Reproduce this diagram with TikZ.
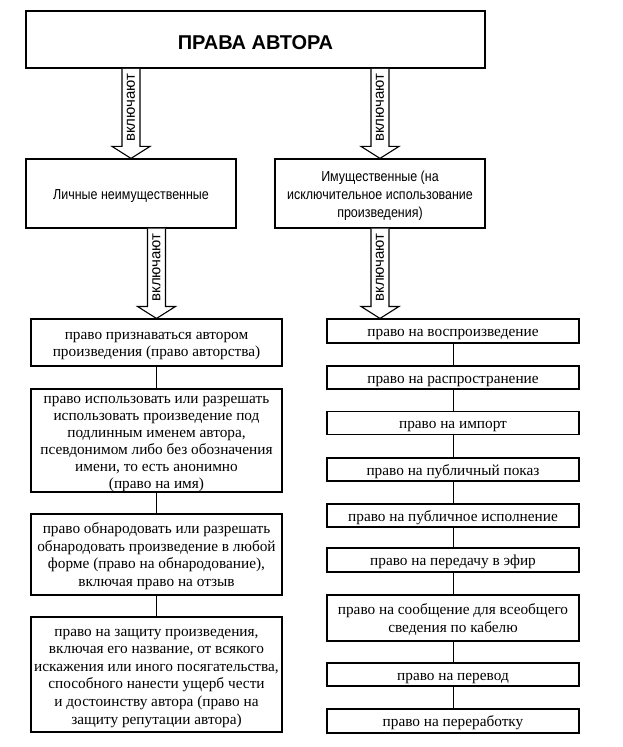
\documentclass[tikz,border=0pt]{standalone}
\usepackage{fontspec}
\setmainfont{Liberation Serif}
\setsansfont{Liberation Sans}
\newfontfamily\condsans{Liberation Sans}[FakeStretch=0.86]
\usetikzlibrary{calc}
\newcommand{\lines}[1]{\raisebox{-2pt}[\height][\depth]{\begin{tabular}{@{}c@{}}#1\end{tabular}}}
\newcommand{\catlines}[1]{\raisebox{-2.5pt}[\height][\depth]{\begin{tabular}{@{}c@{}}#1\end{tabular}}}
\newcommand{\tightlines}[1]{{\renewcommand{\arraystretch}{0.975}\raisebox{-2pt}[\height][\depth]{\begin{tabular}{@{}c@{}}#1\end{tabular}}}}
\tikzset{
  titlebox/.style={draw=black, line width=1.5pt, fill=white, inner sep=0pt,
    text height=20pt, text depth=0pt,
    font=\sffamily\bfseries\fontsize{20}{22}\selectfont},
  catbox/.style={draw=black, line width=1.2pt, fill=white, inner sep=0pt,
    font=\condsans\fontsize{14.5}{18}\selectfont},
  itembox/.style={draw=black, line width=1.1pt, fill=white, inner sep=0pt,
    font=\rmfamily\fontsize{15.3}{17.6}\selectfont},
  litem/.style={itembox, minimum width=251pt},
  ritem/.style={itembox, minimum width=252pt},
  link/.style={draw=black, line width=0.9pt},
  barrow/.style={draw=black, line width=1.1pt, fill=white, line join=miter},
  alabel/.style={font=\sffamily\fontsize{15}{17}\selectfont, rotate=90, inner sep=0pt}
}
\newcommand{\blockarrow}[3]{%
  \draw[barrow] let \p1=(#1.south -| #2.north), \p2=(#2.north) in
    (\x1-9pt,\y1) -- (\x1-9pt,\y2+12pt) -- (\x1-19pt,\y2+12pt) -- (\x2,\y2)
    -- (\x1+19pt,\y2+12pt) -- (\x1+9pt,\y2+12pt) -- (\x1+9pt,\y1);
  \path let \p1=(#1.south -| #2.north), \p2=(#2.north) in
    node[alabel] (#3) at (\x1,{(\y1+\y2+12pt)/2}) {включают};
}
\begin{document}
\begin{tikzpicture}[x=1pt,y=-1pt]
\useasboundingbox[fill=white] (0,0) rectangle (623,747);
\node[titlebox, minimum width=459pt, minimum height=57pt] (top) at (255.5,39.5) {ПРАВА АВТОРА};
\node[catbox, minimum width=210pt, minimum height=69pt] (lcat) at (131,193.5) {\catlines{Личные неимущественные}};
\node[catbox, minimum width=210pt, minimum height=69pt] (rcat) at (380,193.5) {\catlines{Имущественные (на\\исключительное использование\\произведения)}};

\node[litem, minimum height=47pt] (l1) at (156.5,342.5) {\lines{право признаваться автором\\произведения (право авторства)}};
\node[litem, minimum height=103pt] (l2) at (156.5,440.5) {\tightlines{право использовать или разрешать\\использовать произведение под\\подлинным именем автора,\\псевдонимом либо без обозначения\\имени, то есть анонимно\\(право на имя)}};
\node[litem, minimum height=81pt] (l3) at (156.5,554.5) {\lines{право обнародовать или разрешать\\обнародовать произведение в любой\\форме (право на обнародование),\\включая право на отзыв}};
\node[litem, minimum height=115pt] (l4) at (156.5,674.5) {\lines{право на защиту произведения,\\включая его название, от всякого\\искажения или иного посягательства,\\способного нанести ущерб чести\\и достоинству автора (право на\\защиту репутации автора)}};

\node[ritem, minimum height=24pt] (r1) at (453,331) {\lines{право на воспроизведение}};
\node[ritem, minimum height=23pt] (r2) at (453,377.5) {\lines{право на распространение}};
\node[ritem, minimum height=23pt] (r3) at (453,423) {\lines{право на импорт}};
\node[ritem, minimum height=23pt] (r4) at (453,469.5) {\lines{право на публичный показ}};
\node[ritem, minimum height=23pt] (r5) at (453,515.5) {\lines{право на публичное исполнение}};
\node[ritem, minimum height=24pt] (r6) at (453,560) {\lines{право на передачу в эфир}};
\node[ritem, minimum height=46pt] (r7) at (453,618) {\lines{право на сообщение для всеобщего\\сведения по кабелю}};
\node[ritem, minimum height=23pt] (r8) at (453,674.5) {\lines{право на перевод}};
\node[ritem, minimum height=24pt] (r9) at (453,721) {\lines{право на переработку}};

\draw[link] (l1) -- (l2);
\draw[link] (l2) -- (l3);
\draw[link] (l3) -- (l4);
\draw[link] (r1) -- (r2);
\draw[link] (r2) -- (r3);
\draw[link] (r3) -- (r4);
\draw[link] (r4) -- (r5);
\draw[link] (r5) -- (r6);
\draw[link] (r6) -- (r7);
\draw[link] (r7) -- (r8);
\draw[link] (r8) -- (r9);

\blockarrow{top}{lcat}{a1}
\blockarrow{top}{rcat}{a2}
\blockarrow{lcat}{l1}{a3}
\path let \p1=(rcat.south), \p2=(r1.north) in coordinate (r1t) at (\x1,\y2);
\draw[barrow] let \p1=(rcat.south), \p2=(r1t) in
    (\x1-9pt,\y1) -- (\x1-9pt,\y2+12pt) -- (\x1-19pt,\y2+12pt) -- (\x2,\y2)
    -- (\x1+19pt,\y2+12pt) -- (\x1+9pt,\y2+12pt) -- (\x1+9pt,\y1);
\path let \p1=(rcat.south), \p2=(r1t) in
    node[alabel] (a4) at (\x1,{(\y1+\y2+12pt)/2}) {включают};
\end{tikzpicture}
\end{document}
